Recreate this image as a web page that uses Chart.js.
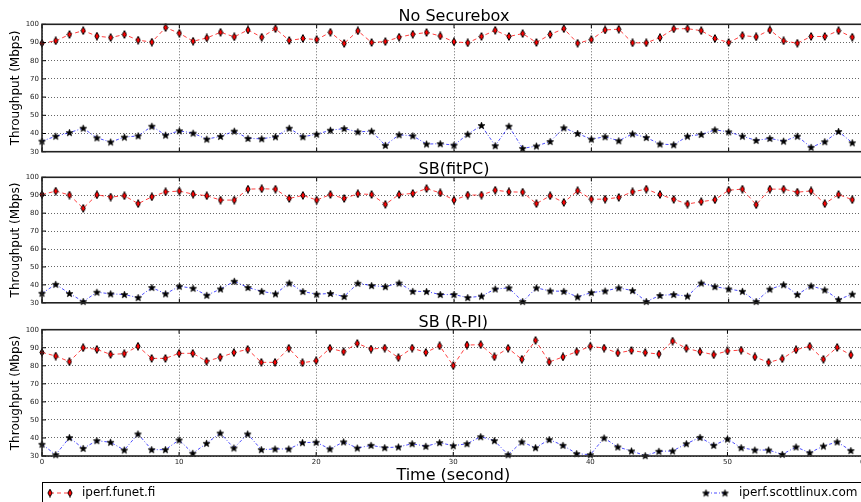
<!DOCTYPE html>
<html><head><meta charset="utf-8">
<script src="https://cdn.jsdelivr.net/npm/chart.js@4.4.1/dist/chart.umd.min.js"></script>
<style>
html,body{margin:0;padding:0;background:#fff;width:861px;height:502px;overflow:hidden;position:relative}
canvas{position:absolute;left:0;display:block}
</style></head><body>
<canvas id="c1" width="871" height="160" style="top:0px"></canvas>
<canvas id="c2" width="871" height="150" style="top:160px"></canvas>
<canvas id="c3" width="871" height="192" style="top:310px"></canvas>
<script>
// ---- data ----
const seconds = [0,1,2,3,4,5,6,7,8,9,10,11,12,13,14,15,16,17,18,19,20,21,22,23,24,25,26,27,28,29,30,31,32,33,34,35,36,37,38,39,40,41,42,43,44,45,46,47,48,49,50,51,52,53,54,55,56,57,58,59];
const seriesNames = ['iperf.funet.fi', 'iperf.scottlinux.com'];
const panelTitles = ['No Securebox', 'SB(fitPC)', 'SB (R-PI)'];
const xTickValues = [0,10,20,30,40,50,60];
const yTickValues = [30,40,50,60,70,80,90,100];
const xAxisTitle = 'Time (second)';
const yAxisTitle = 'Throughput (Mbps)';

const noSB_funet = [89.6,90.9,94.4,96.5,93.5,92.7,94.4,91.3,90.2,98.2,95.1,90.7,92.5,95.6,93.1,96.9,92.9,97.6,91.1,92.2,91.6,95.6,89.5,96.4,90.0,90.5,92.9,94.5,95.5,93.6,90.4,89.8,93.3,96.7,93.3,94.9,90.0,94.4,97.6,89.6,91.6,96.9,97.3,89.8,89.8,92.7,97.5,97.6,96.5,92.2,90.0,93.8,93.1,96.9,90.9,89.6,93.3,93.3,96.5,92.9];
const noSB_scott = [35.8,38.5,40.5,42.9,37.6,35.3,38.0,38.7,44.0,39.1,41.5,40.2,36.9,38.4,41.3,37.3,37.1,38.2,42.9,38.2,39.6,41.8,42.7,40.9,41.3,33.5,39.3,38.7,34.2,34.4,33.6,39.6,44.4,33.3,44.0,31.8,33.1,35.6,43.1,40.0,36.9,38.2,36.0,39.8,37.8,34.2,33.8,38.5,39.5,42.0,40.9,38.5,36.2,37.3,35.8,38.5,32.4,35.5,41.1,34.9];
const fit_funet = [90.4,92.3,90.1,82.7,90.2,89.0,89.7,85.3,89.1,91.9,92.3,90.6,89.7,87.3,87.3,93.4,93.6,93.4,88.2,89.9,87.3,90.4,88.2,90.8,90.4,84.9,90.4,91.0,93.7,91.3,87.3,90.1,90.1,92.8,91.9,91.7,85.3,89.7,86.0,92.5,87.8,87.8,88.8,91.9,93.4,90.4,87.7,85.1,86.4,87.5,92.8,93.4,84.7,93.4,93.4,91.7,92.4,85.3,90.4,87.5];
const fit_scott = [35.3,40.3,35.2,30.7,35.9,35.0,34.6,32.9,38.5,35.0,39.2,38.1,34.2,37.7,42.0,38.5,36.4,35.0,41.0,36.3,34.8,35.2,33.5,40.9,39.6,39.0,41.0,36.4,36.3,34.6,34.6,32.9,33.7,37.7,38.3,30.7,38.3,36.6,36.4,33.3,35.7,36.6,38.3,36.8,30.7,34.1,34.6,33.7,41.0,39.0,37.7,36.4,30.7,37.6,40.1,34.6,39.4,37.2,31.8,34.8];
const rpi_funet = [87.4,85.4,82.3,90.0,89.1,86.3,86.7,90.8,84.1,84.1,86.9,86.9,82.5,84.7,87.3,89.1,81.9,81.9,89.7,81.7,82.8,89.7,87.8,92.4,89.3,89.8,84.5,89.8,87.4,91.1,80.1,91.5,91.7,85.0,89.7,83.6,94.1,82.1,84.9,87.8,90.8,89.8,87.1,88.5,87.3,86.5,93.7,89.7,87.8,86.1,88.2,88.7,84.9,81.9,83.9,88.9,90.8,83.6,90.2,86.0];
const rpi_scott = [36.5,30.7,40.2,34.2,38.5,37.6,33.3,42.2,33.5,33.5,38.9,31.5,37.0,42.7,34.4,42.2,33.5,33.9,33.9,37.4,37.6,33.9,37.8,34.4,35.9,34.6,35.0,36.8,35.4,37.4,35.7,36.8,40.7,38.5,30.7,37.8,34.6,39.1,35.9,31.3,30.7,40.0,35.0,32.8,30.2,32.6,32.8,36.8,40.3,35.9,39.4,34.6,33.3,33.3,30.9,35.0,31.8,35.5,37.8,33.0];

// ---- marker images ----
function diamondImg(){
  const c=document.createElement('canvas'); c.width=6; c.height=9;
  const g=c.getContext('2d');
  g.beginPath(); g.moveTo(3,0.6); g.lineTo(5.1,4.5); g.lineTo(3,8.4); g.lineTo(0.9,4.5); g.closePath();
  g.fillStyle='#ff0000'; g.fill(); g.lineWidth=1; g.strokeStyle='#000'; g.stroke();
  return c;
}
function starImg(){
  const c=document.createElement('canvas'); c.width=9; c.height=9;
  const g=c.getContext('2d');
  g.beginPath();
  for(let k=0;k<10;k++){
    const r = k%2===0 ? 3.7 : 1.6;
    const a = -Math.PI/2 + k*Math.PI/5;
    const px=4.5+r*Math.cos(a), py=4.8+r*Math.sin(a);
    if(k===0) g.moveTo(px,py); else g.lineTo(px,py);
  }
  g.closePath(); g.fillStyle='#000'; g.fill(); g.lineWidth=0.6; g.strokeStyle='#000'; g.stroke();
  return c;
}
const DIAMOND = diamondImg();
const STAR = starImg();
const FONT = '"DejaVu Sans", "Liberation Sans", sans-serif';

const framePlugin = {
  id: 'frame',
  afterDraw(chart, args, o){
    const {ctx, chartArea:a, scales} = chart;
    ctx.save();
    ctx.setLineDash([]);
    ctx.strokeStyle='#000'; ctx.lineWidth=1;
    ctx.beginPath();
    scales.x.ticks.forEach(t=>{const px=scales.x.getPixelForValue(t.value);
      ctx.moveTo(px,a.bottom); ctx.lineTo(px,a.bottom-4); ctx.moveTo(px,a.top); ctx.lineTo(px,a.top+4);});
    scales.y.ticks.forEach(t=>{const py=scales.y.getPixelForValue(t.value);
      ctx.moveTo(a.left,py); ctx.lineTo(a.left+4,py); ctx.moveTo(a.right,py); ctx.lineTo(a.right-4,py);});
    ctx.stroke();
    ctx.lineWidth=1.6; ctx.strokeStyle='#222';
    ctx.strokeRect(a.left, a.top, a.right-a.left, a.bottom-a.top);
    ctx.fillStyle='#000'; ctx.font='16px '+FONT; ctx.textAlign='center'; ctx.textBaseline='alphabetic';
    ctx.fillText(o.title, (a.left+a.right)/2, a.top-3);
    if(o.bottom){
      ctx.fillText(xAxisTitle, (a.left+a.right)/2, a.bottom+24);
      const top=a.bottom+26;
      ctx.lineWidth=1; ctx.strokeStyle='#000';
      ctx.strokeRect(a.left+0.5, top+0.5, a.right-a.left, 60);
      const ly=top+11;
      const ds=chart.data.datasets;
      const entries=[{x1:50,x2:70,tx:82},{x1:706,x2:725,tx:739}];
      ds.forEach((d,i)=>{
        const e=entries[i];
        ctx.save();
        ctx.strokeStyle=d.borderColor; ctx.lineWidth=1; ctx.setLineDash(d.borderDash);
        ctx.beginPath(); ctx.moveTo(e.x1,ly); ctx.lineTo(e.x2,ly); ctx.stroke();
        ctx.restore();
        const img=d.pointStyle;
        ctx.drawImage(img, e.x1-img.width/2, ly-img.height/2);
        ctx.drawImage(img, e.x2-img.width/2, ly-img.height/2);
        ctx.fillStyle='#000'; ctx.font='12px '+FONT; ctx.textAlign='left'; ctx.textBaseline='middle';
        ctx.fillText(d.label, e.tx, ly);
      });
    }
    ctx.restore();
  }
};

function makeChart(id, title, funet, scott, padTop, padBottom, bottom){
  const toPts = arr => arr.map((v,i)=>({x:seconds[i], y:v}));
  return new Chart(document.getElementById(id), {
    type:'line',
    data:{datasets:[
      {label:seriesNames[0], data:toPts(funet), borderColor:'rgba(255,0,0,0.75)', borderWidth:1, borderDash:[4,3],
       pointStyle:DIAMOND, pointRadius:4, tension:0, fill:false, clip:false},
      {label:seriesNames[1], data:toPts(scott), borderColor:'rgba(0,0,255,0.7)', borderWidth:1, borderDash:[3,2,1,2],
       pointStyle:STAR, pointRadius:4, tension:0, fill:false, clip:false}
    ]},
    options:{
      responsive:false, animation:false, devicePixelRatio:1, events:[],
      layout:{padding:{top:padTop, bottom:padBottom, left:0, right:5}},
      plugins:{legend:{display:false}, tooltip:{enabled:false}, frame:{title:title, bottom:bottom}},
      scales:{
        x:{type:'linear', min:0, max:60,
           afterBuildTicks: s => { s.ticks = xTickValues.map(v=>({value:v})); },
           afterFit: s => { s.height = bottom ? 46 : 0; },
           ticks:{display:bottom, padding:2, color:'#222', font:{family:FONT, size:7}},
           grid:{color:'rgba(0,0,0,0.6)', lineWidth:1, drawTicks:false},
           border:{display:false, dash:[1,2]}},
        y:{min:30, max:100,
           afterBuildTicks: s => { s.ticks = yTickValues.map(v=>({value:v})); },
           afterFit: s => { s.width = 42; },
           ticks:{padding:3, color:'#222', font:{family:FONT, size:7}},
           grid:{color:'rgba(0,0,0,0.6)', lineWidth:1, drawTicks:false},
           border:{display:false, dash:[1,2]},
           title:{display:true, text:yAxisTitle, color:'#000', font:{family:FONT, size:12}, padding:{top:9,bottom:0}}}
      }
    },
    plugins:[framePlugin]
  });
}
makeChart('c1', panelTitles[0], noSB_funet, noSB_scott, 24.3, 8.3, false);
makeChart('c2', panelTitles[1], fit_funet, fit_scott, 17.3, 6, false);
makeChart('c3', panelTitles[2], rpi_funet, rpi_scott, 19.7, 0, true);
</script>
</body></html>
